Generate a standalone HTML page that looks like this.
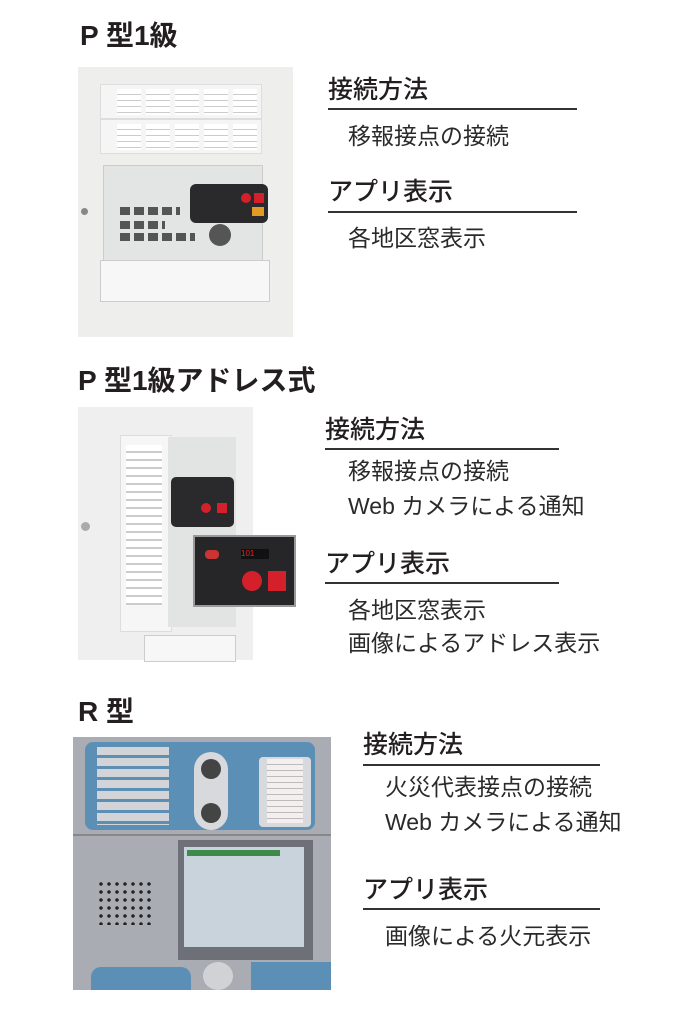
<!DOCTYPE html>
<html><head><meta charset="utf-8"><style>
body{margin:0;width:683px;height:1024px;background:#fff;position:relative;overflow:hidden;font-family:"Liberation Sans","Noto Sans CJK JP",sans-serif;color:#231f20}
.a{position:absolute;white-space:nowrap;line-height:1}
.t{font-weight:bold;font-size:28px}
.h{font-size:25px;font-weight:500}
.i{font-size:23px;font-weight:400;color:#2a2a2a}
.l{position:absolute;height:2px;background:#333}
.b{position:absolute}
.rows{background:repeating-linear-gradient(90deg,#f8f8f8 0 28px,#e8e8e8 28px 32px),#fff}
</style></head><body>
<div class="a t" style="left:80px;top:22px">P 型1級</div>
<div class="a t" style="left:78px;top:367px">P 型1級アドレス式</div>
<div class="a t" style="left:78px;top:698px">R 型</div>

<div class="a h" style="left:328px;top:78px">接続方法</div>
<div class="l" style="left:328px;top:108px;width:249px"></div>
<div class="a i" style="left:348px;top:125px">移報接点の接続</div>
<div class="a h" style="left:328px;top:180px">アプリ表示</div>
<div class="l" style="left:328px;top:211px;width:249px"></div>
<div class="a i" style="left:348px;top:227px">各地区窓表示</div>

<div class="a h" style="left:325px;top:418px">接続方法</div>
<div class="l" style="left:325px;top:448px;width:234px"></div>
<div class="a i" style="left:348px;top:460px">移報接点の接続</div>
<div class="a i" style="left:348px;top:495px">Web カメラによる通知</div>
<div class="a h" style="left:325px;top:552px">アプリ表示</div>
<div class="l" style="left:325px;top:582px;width:234px"></div>
<div class="a i" style="left:348px;top:599px">各地区窓表示</div>
<div class="a i" style="left:348px;top:632px">画像によるアドレス表示</div>

<div class="a h" style="left:363px;top:733px">接続方法</div>
<div class="l" style="left:363px;top:764px;width:237px"></div>
<div class="a i" style="left:385px;top:776px">火災代表接点の接続</div>
<div class="a i" style="left:385px;top:811px">Web カメラによる通知</div>
<div class="a h" style="left:363px;top:878px">アプリ表示</div>
<div class="l" style="left:363px;top:908px;width:237px"></div>
<div class="a i" style="left:385px;top:925px">画像による火元表示</div>

<!-- image 1 -->
<div class="b" style="left:78px;top:67px;width:215px;height:270px;background:#eeeeed">
 <div class="b" style="left:22px;top:17px;width:160px;height:33px;background:#f5f5f5;border:1px solid #ddd">
  <div class="b" style="left:16px;top:4px;width:140px;height:26px;background:repeating-linear-gradient(180deg,#fff 0 5px,#ccc 5px 6px);-webkit-mask:repeating-linear-gradient(90deg,#000 0 24px,transparent 24px 29px)"></div></div>
 <div class="b" style="left:22px;top:52px;width:160px;height:33px;background:#f5f5f5;border:1px solid #ddd">
  <div class="b" style="left:16px;top:4px;width:140px;height:26px;background:repeating-linear-gradient(180deg,#fff 0 5px,#ccc 5px 6px);-webkit-mask:repeating-linear-gradient(90deg,#000 0 24px,transparent 24px 29px)"></div></div>
 <div class="b" style="left:25px;top:98px;width:158px;height:96px;background:#e3e4e4;border:1px solid #ccc"></div>
 <div class="b" style="left:112px;top:117px;width:78px;height:39px;background:#2a2a2c;border-radius:6px"></div>
 <div class="b" style="left:163px;top:126px;width:10px;height:10px;background:#d4202a;border-radius:50%"></div>
 <div class="b" style="left:176px;top:126px;width:10px;height:10px;background:#d4202a"></div>
 <div class="b" style="left:174px;top:140px;width:12px;height:9px;background:#e39a25"></div>
 <div class="b" style="left:42px;top:140px;width:60px;height:8px;background:repeating-linear-gradient(90deg,#555 0 10px,transparent 10px 14px)"></div>
 <div class="b" style="left:42px;top:154px;width:45px;height:8px;background:repeating-linear-gradient(90deg,#555 0 10px,transparent 10px 14px)"></div>
 <div class="b" style="left:42px;top:166px;width:75px;height:8px;background:repeating-linear-gradient(90deg,#555 0 10px,transparent 10px 14px)"></div>
 <div class="b" style="left:131px;top:157px;width:22px;height:22px;background:#555;border-radius:50%"></div>
 <div class="b" style="left:22px;top:193px;width:168px;height:40px;background:#f7f7f7;border:1px solid #ccc"></div>
 <div class="b" style="left:3px;top:141px;width:7px;height:7px;background:#888;border-radius:50%"></div>
</div>
<!-- image 2 -->
<div class="b" style="left:78px;top:407px;width:175px;height:253px;background:#efefef">
 <div class="b" style="left:42px;top:28px;width:50px;height:195px;background:#f6f6f6;border:1px solid #ddd"></div>
 <div class="b" style="left:48px;top:38px;width:36px;height:160px;background:repeating-linear-gradient(180deg,#fff 0 6px,#ccc 6px 8px)"></div>
 <div class="b" style="left:90px;top:30px;width:68px;height:190px;background:#e2e3e3"></div>
 <div class="b" style="left:93px;top:70px;width:63px;height:50px;background:#2a2a2c;border-radius:5px"></div>
 <div class="b" style="left:123px;top:96px;width:10px;height:10px;background:#d4202a;border-radius:50%"></div>
 <div class="b" style="left:139px;top:96px;width:10px;height:10px;background:#d4202a"></div>
 <div class="b" style="left:66px;top:228px;width:90px;height:25px;background:#f7f7f7;border:1px solid #ccc"></div>
 <div class="b" style="left:3px;top:115px;width:9px;height:9px;background:#aaa;border-radius:50%"></div>
</div>
<div class="b" style="left:193px;top:535px;width:99px;height:68px;background:#262628;border:2px solid #999">
 <div class="b" style="left:46px;top:12px;width:28px;height:10px;background:#111;color:#e22;font-size:8px">101</div>
 <div class="b" style="left:47px;top:34px;width:20px;height:20px;background:#d4202a;border-radius:50%"></div>
 <div class="b" style="left:73px;top:34px;width:18px;height:20px;background:#d4202a"></div>
 <div class="b" style="left:10px;top:13px;width:14px;height:9px;background:#c33;border-radius:4px"></div>
</div>
<!-- image 3 -->
<div class="b" style="left:73px;top:737px;width:258px;height:253px;background:#a9adb3">
 <div class="b" style="left:12px;top:5px;width:230px;height:88px;background:#5b8fb5;border-radius:8px"></div>
 <div class="b" style="left:24px;top:10px;width:72px;height:78px;background:repeating-linear-gradient(180deg,#d2d4d8 0 8px,#5b8fb5 8px 11px)"></div>
 <div class="b" style="left:121px;top:15px;width:34px;height:78px;background:#d8d9dc;border-radius:17px"></div>
 <div class="b" style="left:128px;top:22px;width:20px;height:20px;background:#444;border-radius:50%"></div>
 <div class="b" style="left:128px;top:66px;width:20px;height:20px;background:#444;border-radius:50%"></div>
 <div class="b" style="left:186px;top:20px;width:52px;height:70px;background:#d8d9dc;border-radius:4px"></div>
 <div class="b" style="left:194px;top:22px;width:36px;height:64px;background:repeating-linear-gradient(180deg,#f4eeee 0 5px,#bbb 5px 6px)"></div>
 <div class="b" style="left:0;top:97px;width:258px;height:2px;background:#888"></div>
 <div class="b" style="left:105px;top:103px;width:135px;height:120px;background:#6d7177"></div>
 <div class="b" style="left:111px;top:110px;width:120px;height:100px;background:#c9d3dc"></div>
 <div class="b" style="left:114px;top:113px;width:93px;height:6px;background:#3e8a4a"></div>
 <div class="b" style="left:24px;top:143px;width:55px;height:45px;background:radial-gradient(#222 1.5px,transparent 2px) 0 0/8px 8px"></div>
 <div class="b" style="left:18px;top:230px;width:100px;height:23px;background:#5b8fb5;border-radius:10px 10px 0 0"></div>
 <div class="b" style="left:130px;top:225px;width:30px;height:28px;background:#d0d2d5;border-radius:50%"></div>
 <div class="b" style="left:178px;top:225px;width:80px;height:28px;background:#5b8fb5"></div>
</div>
</body></html>
